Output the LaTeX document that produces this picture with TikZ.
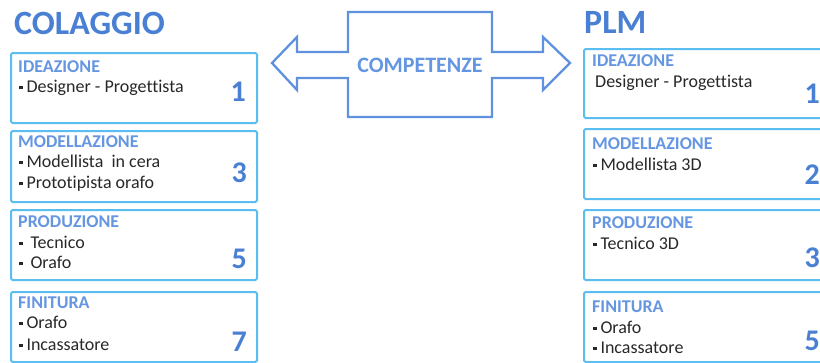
\documentclass[tikz,border=0pt]{standalone}
\usepackage{fontspec}
\setmainfont{Carlito}[Ligatures={NoCommon}]
\definecolor{titleblue}{RGB}{74,128,212}
\definecolor{headblue}{RGB}{100,150,225}
\definecolor{boxcyan}{RGB}{90,190,240}
\definecolor{arrowblue}{RGB}{95,145,222}
\definecolor{bodytext}{RGB}{40,40,40}
\newcommand{\sqb}{\raisebox{2.6pt}{\rule{3.8pt}{3.8pt}}\hspace{3.5pt}}
\begin{document}
\begin{tikzpicture}[x=1pt,y=-1pt,
  box/.style={draw=boxcyan, line width=2pt, rounded corners=1.5pt, fill=white, inner sep=0, anchor=north west},
  title/.style={anchor=base west, inner sep=0, font=\fontsize{34}{34}\selectfont\bfseries, text=titleblue},
  head/.style={anchor=base west, inner sep=0, font=\fontsize{18}{18}\selectfont\bfseries, text=headblue},
  item/.style={anchor=base west, inner sep=0, font=\fontsize{18}{18}\selectfont, text=bodytext},
  num/.style={anchor=base east, inner sep=0, font=\fontsize{30}{30}\selectfont\bfseries, text=titleblue},
  arrowshape/.style={draw=arrowblue, line width=2.3pt, line join=miter, fill=white},
]
\clip (0,0) rectangle (820,362);
\fill[white] (0,0) rectangle (820,362);

% titles
\node[title] (tl) at (14,34) {COLAGGIO};
\node[title] (tr) at (584,33) {PLM};

% double arrow
\draw[arrowshape] (272,63) -- (297,37) -- (297,52) -- (348,52) -- (348,12) -- (492,12) -- (492,52)
  -- (543,52) -- (543,37) -- (570,63) -- (543,90) -- (543,78) -- (492,78) -- (492,117)
  -- (348,117) -- (348,78) -- (297,78) -- (297,90) -- cycle;
\node[anchor=base, inner sep=0, font=\fontsize{22}{22}\selectfont\bfseries, text=headblue] (comp) at (420,72) {COMPETENZE};

% left boxes
\node[box, minimum width=246, minimum height=70] (l1) at (10,52) {};
\node[box, minimum width=246, minimum height=71] (l2) at (10,130) {};
\node[box, minimum width=246, minimum height=70] (l3) at (10,209) {};
\node[box, minimum width=246, minimum height=70] (l4) at (10,291) {};

% right boxes
\node[box, minimum width=248, minimum height=69] (r1) at (583,48) {};
\node[box, minimum width=248, minimum height=70] (r2) at (583,128) {};
\node[box, minimum width=248, minimum height=70] (r3) at (583,209) {};
\node[box, minimum width=248, minimum height=70] (r4) at (583,291) {};

% left texts
\node[head] (lh1) at (18,72) {IDEAZIONE};
\node[item] (li11) at (19,92) {\sqb Designer - Progettista};
\node[num] (ln1) at (246,101) {1};

\node[head] (lh2) at (18,147) {MODELLAZIONE};
\node[item] (li21) at (19,167) {\sqb Modellista\ \ in cera};
\node[item] (li22) at (19,188) {\sqb Prototipista orafo};
\node[num] (ln2) at (247,182) {3};

\node[head] (lh3) at (18,227) {PRODUZIONE};
\node[item] (li31) at (19,248) {\sqb\hspace{4pt}Tecnico};
\node[item] (li32) at (19,268) {\sqb\hspace{4pt}Orafo};
\node[num] (ln3) at (247,268) {5};

\node[head] (lh4) at (18,308) {FINITURA};
\node[item] (li41) at (19,328) {\sqb Orafo};
\node[item] (li42) at (19,350) {\sqb Incassatore};
\node[num] (ln4) at (247,351) {7};

% right texts
\node[head] (rh1) at (592,66) {IDEAZIONE};
\node[item] (ri11) at (595,87) {Designer - Progettista};
\node[num] (rn1) at (820,103) {1};

\node[head] (rh2) at (592,149) {MODELLAZIONE};
\node[item] (ri21) at (593,170) {\sqb Modellista 3D};
\node[num] (rn2) at (820,184) {2};

\node[head] (rh3) at (592,228) {PRODUZIONE};
\node[item] (ri31) at (593,249) {\sqb Tecnico 3D};
\node[num] (rn3) at (820,267) {3};

\node[head] (rh4) at (592,312) {FINITURA};
\node[item] (ri41) at (593,333) {\sqb Orafo};
\node[item] (ri42) at (593,353) {\sqb Incassatore};
\node[num] (rn4) at (820,350) {5};
\end{tikzpicture}
\end{document}
